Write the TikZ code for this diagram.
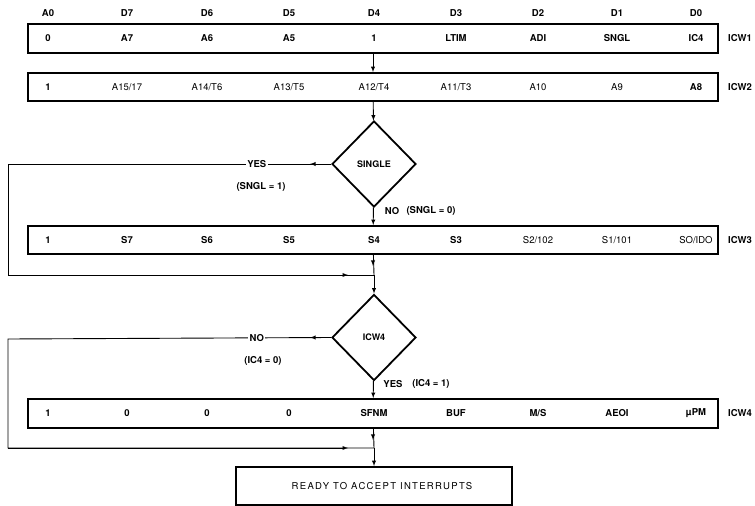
\documentclass[tikz,border=0pt]{standalone}
\usepackage{fontspec}
\setmainfont{TeX Gyre Heros}
\newfontfamily\spacedfont[LetterSpace=14]{TeX Gyre Heros}
\usetikzlibrary{shapes.geometric}
\tikzset{>=latex}
\tikzset{
	regbox/.style={draw, line width=1.8pt, minimum width=690pt, minimum height=28pt, inner sep=0pt},
	test/.style={draw, diamond, line width=1.8pt, minimum width=84pt, minimum height=86pt, inner sep=0pt,
			font=\fontsize{9}{10}\selectfont\bfseries},
	bit/.style={font=\fontsize{9.5}{11}\selectfont\bfseries, inner sep=1pt},
	bitl/.style={font=\fontsize{9.5}{11}\selectfont, inner sep=1pt},
	flag/.style={font=\fontsize{9.5}{11}\selectfont\bfseries, fill=white, inner sep=1.5pt},
	flow/.style={line width=0.9pt}
}

\begin{document}
\begin{tikzpicture}[x=1pt,y=-1pt]
		\useasboundingbox (0,0) rectangle (755,506);

		% bit positions
		\foreach \x/\t [count=\i] in {48/A0,127/D7,207/D6,289/D5,374/D4,456/D3,538/D2,617/D1,696/D0}
		\node[bit] (hd\i) at (\x,13) {\t};

		% command words
		\node[regbox, minimum height=29pt] (icw1) at (373,38.5) {};
		\node[regbox] (icw2) at (373,87) {};
		\node[regbox] (icw3) at (373,240) {};
		\node[regbox, minimum height=29pt] (icw4) at (373,413.5) {};

		\foreach \x/\t [count=\i] in {48/0,127/A7,207/A6,289/A5,374/1,456/LTIM,538/ADI,617/SNGL,696/IC4}
		\node[bit] (wa\i) at (\x,38.5) {\t};
		\foreach \x/\s/\t [count=\i] in {48/bit/1,127/bitl/{A15/17},207/bitl/{A14/T6},289/bitl/{A13/T5},374/bitl/{A12/T4},456/bitl/{A11/T3},538/bitl/A10,617/bitl/A9,696/bit/A8}
		\node[\s] (wb\i) at (\x,87) {\t};
		\foreach \x/\s/\t [count=\i] in {48/bit/1,127/bit/S7,207/bit/S6,289/bit/S5,374/bit/S4,456/bit/S3,538/bitl/{S2/102},617/bitl/{S1/101},696/bitl/{SO/IDO}}
		\node[\s] (wc\i) at (\x,240) {\t};
		\foreach \x/\t [count=\i] in {48/1,127/0,207/0,289/0,374/SFNM,456/BUF,538/{M/S},617/AEOI,696/µPM}
		\node[bit] (wd\i) at (\x,413.5) {\t};

		\node[bit, anchor=west] (n1) at (727,38.5) {ICW1};
		\node[bit, anchor=west] (n2) at (727,87) {ICW2};
		\node[bit, anchor=west] (n3) at (727,240) {ICW3};
		\node[bit, anchor=west] (n4) at (727,413.5) {ICW4};

		% decisions
		\node[test] (single) at (374,164) {SINGLE};
		\node[test] (hasicw4) at (374,337.5) {ICW4};

		\node[draw, line width=1.8pt, minimum width=276pt, minimum height=38pt] (ready) at (374,486) {};
		\node[bitl] (readytxt) at (382,486) {\spacedfont READY TO ACCEPT INTERRUPTS};

		\coordinate (jn1) at (374,275);
		\coordinate (jn2) at (374,448);
		\coordinate (ya) at (8,164);
		\coordinate (yb) at (8,275);
		\coordinate (na) at (8,339);
		\coordinate (nb) at (8,448);

		\draw[flow,->] (icw1) -- (icw2);
		\draw[flow,->] (icw2) -- (single);
		\draw[flow,->] (single) -- (icw3);
		\draw[flow] (icw3) -- (jn1);
		\draw[flow,->] (icw3.south) -- ++(0,11);
		\draw[flow,->] (jn1) -- (hasicw4);
		\draw[flow,->] (hasicw4) -- (icw4);
		\draw[flow] (icw4) -- (jn2);
		\draw[flow,->] (icw4.south) -- ++(0,11);
		\draw[flow,->] (jn2) -- (ready);

		% single mode branch
		\draw[flow,->] (single.west) -- ++(-21,0);
		\draw[flow] (single.west) -- node[flag, pos=.23] (yes1) {YES} (ya) -- (yb) -- (jn1);
		\draw[flow,->] (yb) -- ++(340,0);
		\node[bit] (c1) at (261,187) {(SNGL = 1)};
		\node[bit] (no1) at (392,211) {NO};
		\node[bit] (c2) at (431,211) {(SNGL = 0)};

		% no ICW4 branch
		\draw[flow,->] (hasicw4.west) -- ++(-21,0);
		\draw[flow] (hasicw4.west) -- node[flag, pos=.23] (no2) {NO} (na) -- (nb) -- (jn2);
		\draw[flow,->] (nb) -- ++(340,0);
		\node[bit] (c3) at (263,361) {(IC4 = 0)};
		\node[bit] (yes2) at (393,384) {YES};
		\node[bit] (c4) at (431,384) {(IC4 = 1)};

	\end{tikzpicture}
\end{document}
